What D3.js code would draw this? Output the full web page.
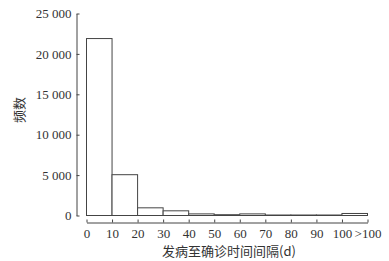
<!DOCTYPE html>
<html>
<head>
<meta charset="utf-8">
<script src="https://cdn.jsdelivr.net/npm/d3@7.9.0/dist/d3.min.js"></script>
<style>
  body { margin: 0; background: #fff; }
  svg text { font-family: 'Liberation Serif', 'Noto Sans CJK SC', serif; fill: #333; }
</style>
</head>
<body>
<svg id="chart" width="389" height="261"></svg>
<script>
// histogram bins (days from onset to diagnosis)
const binStarts = [0, 10, 20, 30, 40, 50, 60, 70, 80, 90, 100];
const counts = [21900, 5050, 950, 580, 200, 100, 200, 60, 60, 60, 250];
const xTickLabels = ['0', '10', '20', '30', '40', '50', '60', '70', '80', '90', '100', '>100'];
const yTicks = [0, 5000, 10000, 15000, 20000, 25000];

const svg = d3.select('#chart');
const ink = '#444';

const x = d3.scaleLinear().domain([0, 110]).range([86.5, 367.5]);
const y = d3.scaleLinear().domain([0, 25000]).range([215.5, 13.5]);

const fmt = (d) => d3.format(',')(d).replace(',', ' ');

// bars
svg.append('g')
  .selectAll('rect')
  .data(binStarts)
  .join('rect')
  .attr('x', (d) => x(d))
  .attr('width', (d) => x(d + 10) - x(d))
  .attr('y', (d, i) => y(counts[i]))
  .attr('height', (d, i) => y(0) - y(counts[i]))
  .attr('fill', '#fff')
  .attr('stroke', ink)
  .attr('stroke-width', 1);

// y axis
const yAxis = svg.append('g')
  .attr('transform', 'translate(76.5,0)')
  .call(d3.axisLeft(y).tickValues(yTicks).tickFormat(fmt).tickSizeInner(-3).tickSizeOuter(0).tickPadding(5));
yAxis.selectAll('path, line').attr('stroke', ink);
yAxis.selectAll('text').style('font-size', '13px').style('fill', '#333');

// x axis
const xAxis = svg.append('g')
  .attr('transform', 'translate(0,222.5)')
  .call(d3.axisBottom(x).tickValues(d3.range(0, 120, 10)).tickFormat((d, i) => xTickLabels[i]).tickSizeInner(-3).tickSizeOuter(0).tickPadding(6));
xAxis.selectAll('path, line').attr('stroke', ink);
xAxis.selectAll('text').style('font-size', '13px').style('fill', '#333');

// axis titles
svg.append('text')
  .attr('transform', 'translate(24,110) rotate(-90)')
  .attr('text-anchor', 'middle')
  .style('font-size', '13px')
  .style('font-family', "'Noto Sans CJK SC', sans-serif")
  .text('频数');

svg.append('text')
  .attr('x', 229)
  .attr('y', 256)
  .attr('text-anchor', 'middle')
  .style('font-size', '13px')
  .style('font-family', "'Noto Sans CJK SC', sans-serif")
  .text('发病至确诊时间间隔(d)');
</script>
</body>
</html>
